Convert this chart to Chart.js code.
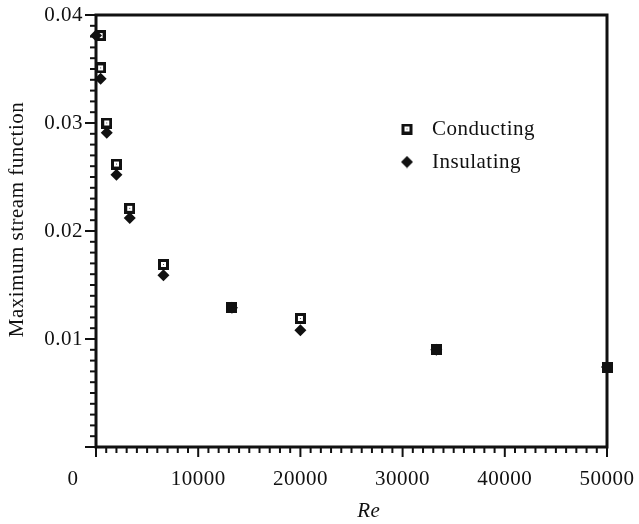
<!DOCTYPE html>
<html><head><meta charset="utf-8">
<script src="https://cdn.jsdelivr.net/npm/chart.js@4.4.0/dist/chart.umd.min.js"></script>
<style>html,body{margin:0;padding:0;background:#fff}canvas{display:block}</style>
</head><body>
<canvas id="c" width="639" height="524"></canvas>
<script>
// ---- data ----
const seriesNames = ['Conducting', 'Insulating'];
const conductingRe  = [400, 450, 1050, 2000, 3300, 6600, 13300, 20000, 33300, 50000];
const conductingPsi = [0.0381, 0.0351, 0.0300, 0.0262, 0.0221, 0.0169, 0.0129, 0.0119, 0.0090, 0.0074];
const insulatingRe  = [0, 450, 1050, 2000, 3300, 6600, 13300, 20000, 33300, 50000];
const insulatingPsi = [0.0381, 0.0341, 0.0291, 0.0252, 0.0212, 0.0159, 0.0129, 0.0108, 0.0090, 0.0074];
const xTickValues = [0, 10000, 20000, 30000, 40000, 50000];
const xTickLabels = ['0', '10000', '20000', '30000', '40000', '50000'];
const yTickValues = [0, 0.01, 0.02, 0.03, 0.04];
const yTickLabels = ['', '0.01', '0.02', '0.03', '0.04'];
const xMinorStep = 1000;
const yMinorStep = 0.001;
const xTitle = 'Re';
const yTitle = 'Maximum stream function';

// ---- marker images ----
function squareMarker(w, cx) {
  const c = document.createElement('canvas'); c.width = w; c.height = 11;
  const g = c.getContext('2d');
  g.fillStyle = '#111'; g.fillRect(cx - 5.5, 0, 11, 11);
  g.fillStyle = '#fff'; g.fillRect(cx - 2.5, 3, 5, 5);
  g.fillStyle = '#555'; g.fillRect(cx - 0.5, 5, 1, 1);
  return c;
}
function diamondMarker(w, cx) {
  const c = document.createElement('canvas'); c.width = w; c.height = 13;
  const g = c.getContext('2d');
  g.fillStyle = '#111'; g.beginPath();
  g.moveTo(cx, 0.5); g.lineTo(cx + 6, 6.5); g.lineTo(cx, 12.5); g.lineTo(cx - 6, 6.5); g.closePath(); g.fill();
  return c;
}
const sqPoint = squareMarker(11, 5.5);
const legendImgs = [squareMarker(22, 7), diamondMarker(22, 7)];

const SERIF = "'Liberation Serif', 'Times New Roman', serif";
const INK = '#111';
const FS = 21;

function zeroPad(s) { s.paddingLeft = 0; s.paddingRight = 0; s.paddingTop = 0; s.paddingBottom = 0; }

const framePlugin = {
  id: 'frame',
  beforeUpdate(chart) { chart.ctx.letterSpacing = '0.5px'; },
  beforeDraw(chart) { chart.ctx.letterSpacing = '0.5px'; },
  afterLayout(chart) {
    const lg = chart.legend; if (!lg) return;
    const w = lg.width, h = lg.height;
    lg.left = 388.5; lg.top = 106.5; lg.right = lg.left + w; lg.bottom = lg.top + h;
  },
  beforeDatasetsDraw(chart) {
    const {ctx, chartArea: a, scales: {x, y}} = chart;
    ctx.save();
    ctx.strokeStyle = INK; ctx.lineWidth = 2;
    const nx = Math.round((x.max - x.min) / xMinorStep);
    for (let k = 0; k <= nx; k++) {
      const v = x.min + k * xMinorStep;
      const px = x.getPixelForValue(v);
      const major = k % 10 === 0;
      ctx.beginPath(); ctx.moveTo(px, a.bottom); ctx.lineTo(px, a.bottom + (major ? 10 : 6)); ctx.stroke();
    }
    const ny = Math.round((y.max - y.min) / yMinorStep);
    for (let k = 0; k <= ny; k++) {
      const v = y.min + k * yMinorStep;
      const py = y.getPixelForValue(v);
      const major = k % 10 === 0;
      ctx.beginPath(); ctx.moveTo(a.left, py); ctx.lineTo(a.left - (major ? 11 : 6), py); ctx.stroke();
    }
    ctx.lineWidth = 3;
    ctx.strokeRect(a.left, a.top, a.right - a.left, a.bottom - a.top);
    ctx.restore();
  }
};

new Chart(document.getElementById('c'), {
  type: 'scatter',
  data: {
    datasets: [
      {
        label: seriesNames[0],
        data: conductingRe.map((r, i) => ({x: r, y: conductingPsi[i]})),
        pointStyle: sqPoint, pointRadius: 6, backgroundColor: INK, borderColor: INK,
        clip: false, order: 1
      },
      {
        label: seriesNames[1],
        data: insulatingRe.map((r, i) => ({x: r, y: insulatingPsi[i]})),
        pointStyle: 'rectRot', pointRadius: 6, backgroundColor: INK, borderColor: INK, borderWidth: 0,
        clip: false, order: 0
      }
    ]
  },
  options: {
    responsive: false,
    animation: false,
    events: [],
    layout: {padding: {top: 15, right: 32, bottom: 0, left: 0}},
    plugins: {
      tooltip: {enabled: false},
      legend: {
        position: 'chartArea', align: 'start',
        labels: {
          usePointStyle: true, boxWidth: FS, boxHeight: FS, padding: 12,
          color: INK, font: {family: SERIF, size: FS},
          generateLabels: (chart) => chart.data.datasets.map((ds, i) => ({
            text: ds.label, pointStyle: legendImgs[i], fillStyle: INK, strokeStyle: INK,
            lineWidth: 0, hidden: false, datasetIndex: i, fontColor: INK
          }))
        }
      }
    },
    scales: {
      x: {
        type: 'linear', min: 0, max: 50000,
        afterFit: (s) => { s.height = 77; zeroPad(s); },
        afterBuildTicks: (s) => { s.ticks = xTickValues.map(v => ({value: v})); },
        grid: {display: false, drawTicks: false},
        border: {display: false},
        ticks: {
          autoSkip: false, maxRotation: 0, minRotation: 0, padding: 20, color: INK,
          font: {family: SERIF, size: FS},
          callback: (v, i) => i === 0 ? xTickLabels[i] + '        ' : xTickLabels[i]
        },
        title: {display: true, text: '      ' + xTitle, color: INK,
          font: {family: SERIF, size: FS, style: 'italic'}, padding: {top: 0, bottom: 0}}
      },
      y: {
        type: 'linear', min: 0, max: 0.04,
        afterFit: (s) => { s.width = 96; zeroPad(s); },
        afterBuildTicks: (s) => { s.ticks = yTickValues.map(v => ({value: v})); },
        grid: {display: false, drawTicks: false},
        border: {display: false},
        ticks: {
          autoSkip: false, padding: 13, color: INK,
          font: {family: SERIF, size: FS},
          callback: (v, i) => yTickLabels[i]
        },
        title: {display: true, text: '    ' + yTitle, color: INK,
          font: {family: SERIF, size: FS}, padding: {top: 5, bottom: 0}}
      }
    }
  },
  plugins: [framePlugin]
});
</script>
</body></html>
